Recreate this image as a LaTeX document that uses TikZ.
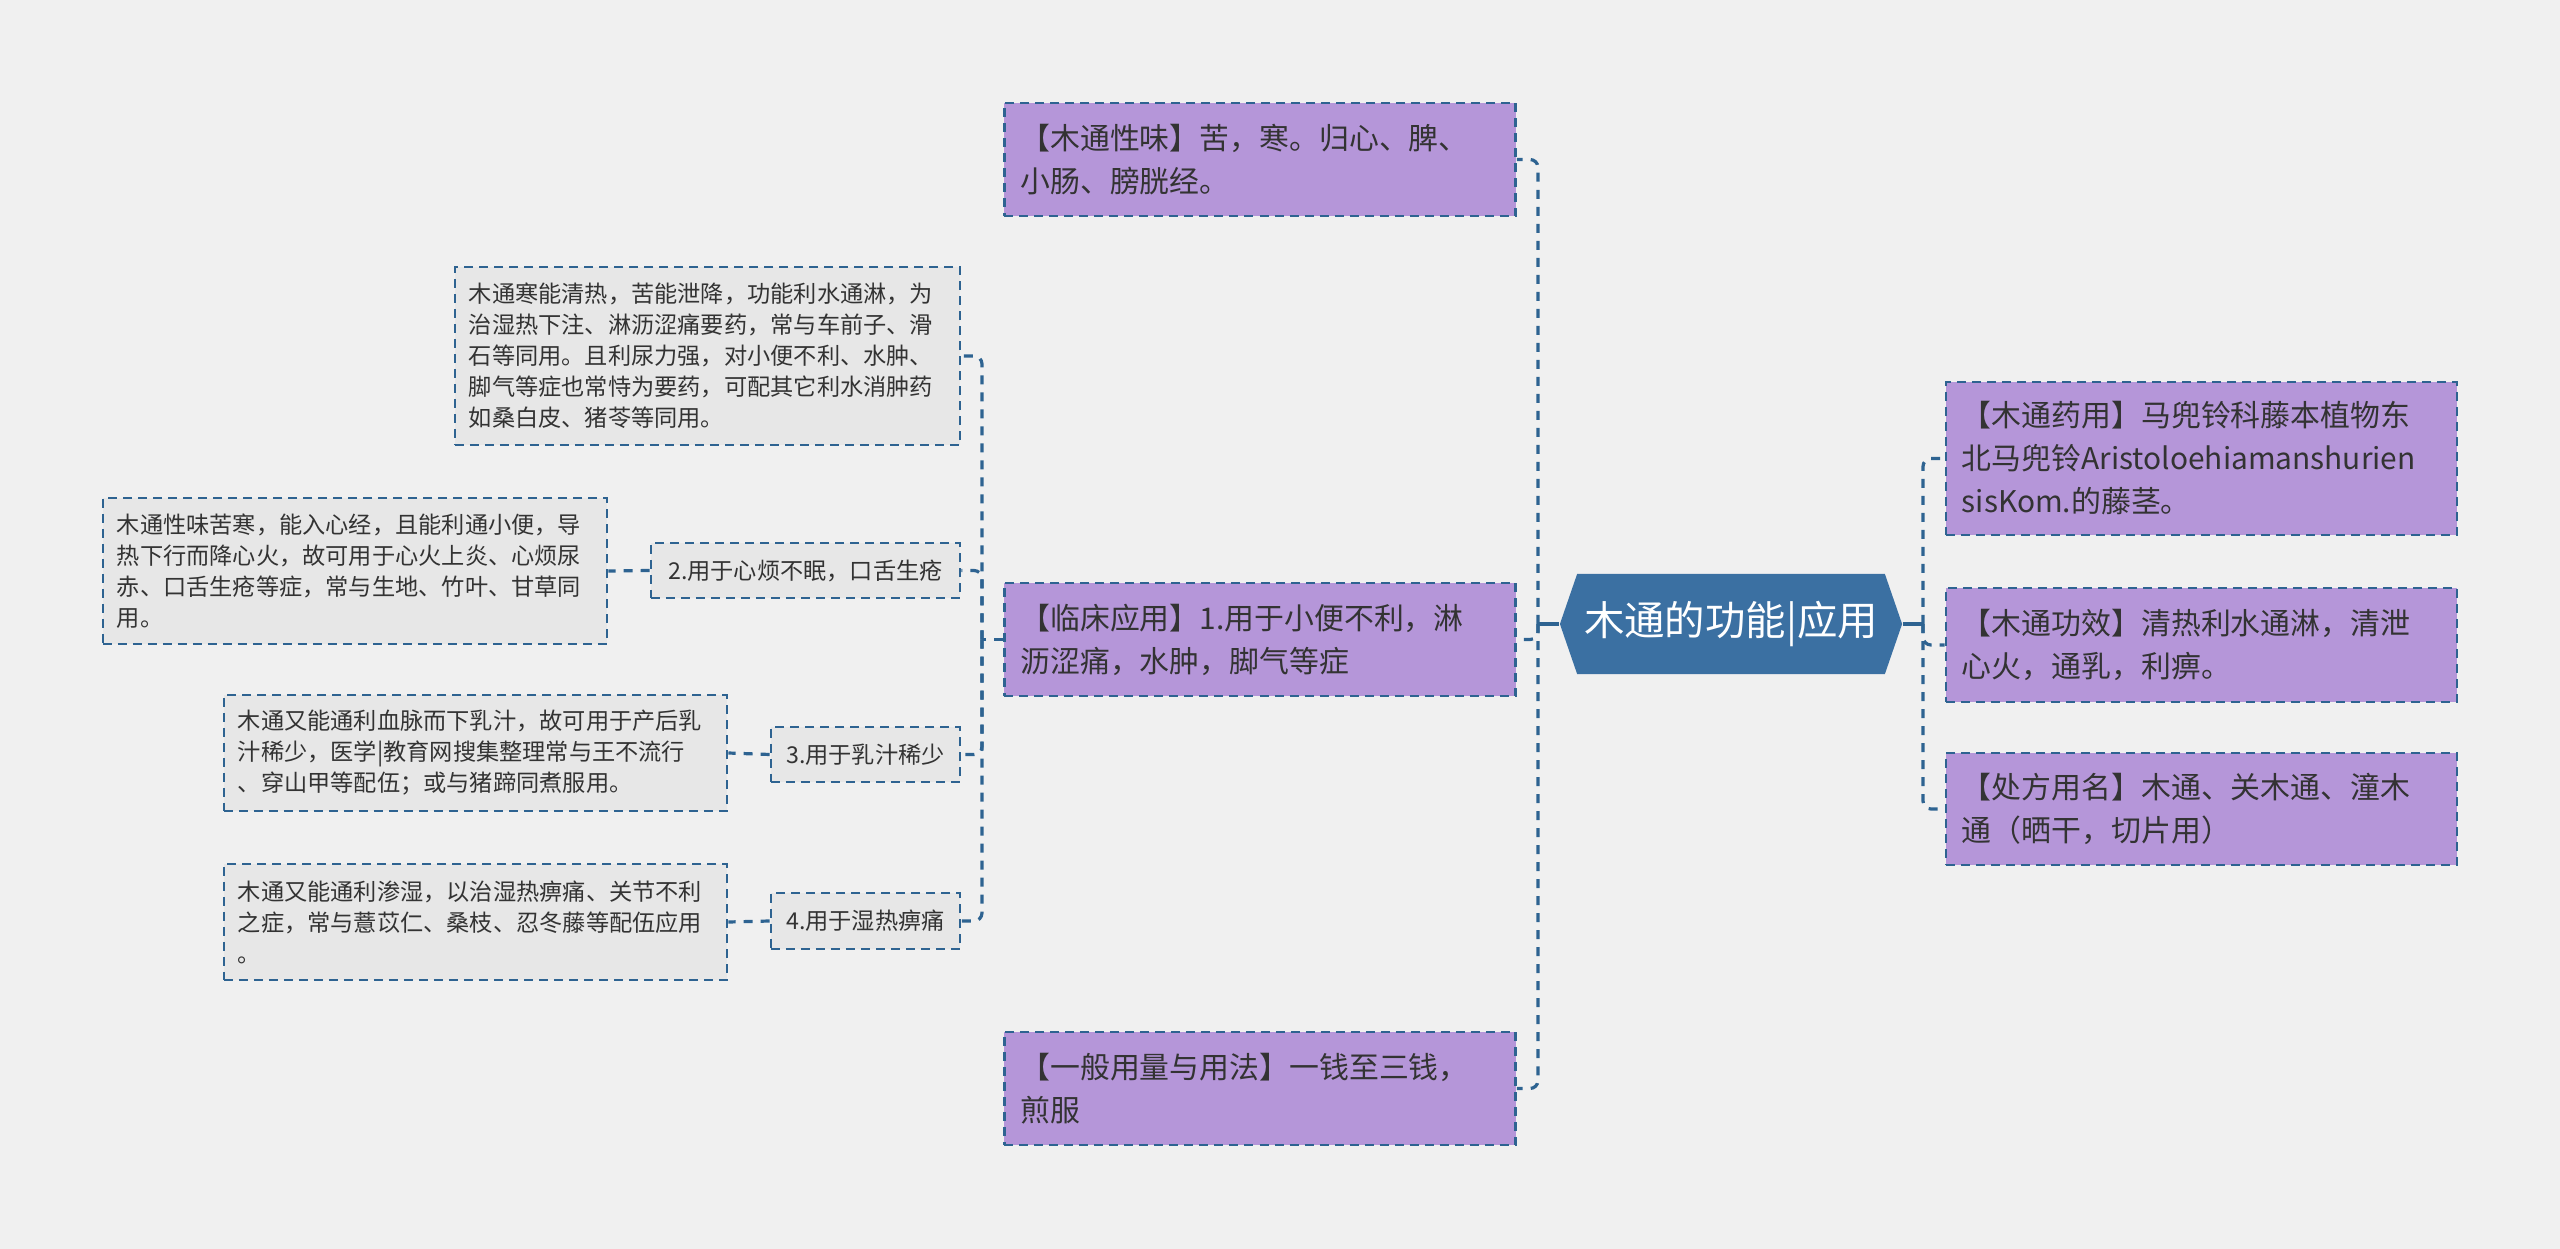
\documentclass[tikz,border=0pt]{standalone}
\usepackage{fontspec}
\setmainfont{Noto Sans CJK SC}
\usetikzlibrary{calc,positioning,shapes.symbols}
\hyphenpenalty=10000
\exhyphenpenalty=10000
\definecolor{Canvas}{HTML}{F0F0F0}
\definecolor{Ink}{HTML}{333333}
\definecolor{Steel}{HTML}{3B70A2}
\definecolor{Wire}{HTML}{2E6391}
\definecolor{Lilac}{HTML}{B596D9}
\definecolor{Cloud}{HTML}{E7E7E7}
\tikzset{
  central/.style={
    shape=signal, signal to=west and east, signal pointer angle=142,
    fill=Steel, text=white, minimum width=3.42cm, minimum height=1cm,
    inner sep=0pt, font=\fontsize{11.5}{14}\selectfont
  },
  branch/.style={
    draw=Wire, line width=0.026cm, dash pattern=on 0.09cm off 0.06cm,
    fill=Lilac, text=Ink, inner xsep=0.16cm, inner ysep=0pt,
    minimum width=5.11cm, text width=4.79cm, align=left,
    font=\fontsize{8.5}{12.2}\selectfont
  },
  leaf/.style={
    draw=Wire, line width=0.026cm, dash pattern=on 0.09cm off 0.06cm,
    fill=Cloud, text=Ink, inner xsep=0.14cm, inner ysep=0pt,
    minimum width=5.04cm, text width=4.76cm, align=left,
    font=\fontsize{6.6}{8.8}\selectfont
  },
  tag/.style={
    draw=Wire, line width=0.026cm, dash pattern=on 0.09cm off 0.06cm,
    fill=Cloud, text=Ink, inner xsep=0.1cm, inner ysep=0pt,
    minimum height=0.55cm, font=\fontsize{6.6}{8.8}\selectfont
  },
  link/.style={draw=Wire, line width=0.032cm, dash pattern=on 0.09cm off 0.08cm, rounded corners=0.08cm},
  stem/.style={draw=Wire, line width=0.035cm}
}

\begin{document}
\begin{tikzpicture}[x=0.01cm, y=-0.01cm]
  \fill[Canvas] (0,0) rectangle (2560,1249);
  \useasboundingbox (0,0) rectangle (2560,1249);

  % centre
  \node[central] (root) at (1731,624) {木通的功能|应用};
  \coordinate (lbus) at (1538,624);
  \coordinate (rbus) at (1923,624);

  % right side
  \node[branch, minimum height=1.53cm] (r1) at (2201.5,458.5)
    {【木通药用】马兜铃科藤本植物东\\北马兜铃Aristoloehiamanshurien\\sisKom.的藤茎。};
  \node[branch, minimum height=1.14cm] (r2) at (2201.5,645)
    {【木通功效】清热利水通淋，清泄\\心火，通乳，利痹。};
  \node[branch, minimum height=1.12cm] (r3) at (2201.5,809)
    {【处方用名】木通、关木通、潼木\\通（晒干，切片用）};

  % left side
  \node[branch, minimum height=1.13cm] (m1) at (1260,159.5)
    {【木通性味】苦，寒。归心、脾、\\小肠、膀胱经。};
  \node[branch, minimum height=1.13cm] (m2) at (1260,639.5)
    {【临床应用】1.用于小便不利，淋\\沥涩痛，水肿，脚气等症};
  \node[branch, minimum height=1.13cm] (m3) at (1260,1088.5)
    {【一般用量与用法】一钱至三钱，\\煎服};
  \coordinate (mbus) at (982,639.5);

  \node[leaf, minimum width=5.05cm, text width=4.77cm, minimum height=1.78cm] (l1) at (707.5,356)
    {木通寒能清热，苦能泄降，功能利水通淋，为\\治湿热下注、淋沥涩痛要药，常与车前子、滑\\石等同用。且利尿力强，对小便不利、水肿、\\脚气等症也常恃为要药，可配其它利水消肿药\\如桑白皮、猪苓等同用。};

  \node[tag, minimum width=3.09cm] (q2) at (805.5,570.5) {2.用于心烦不眠，口舌生疮};
  \node[leaf, minimum height=1.46cm] (d2) at (355,571)
    {木通性味苦寒，能入心经，且能利通小便，导\\热下行而降心火，故可用于心火上炎、心烦尿\\赤、口舌生疮等症，常与生地、竹叶、甘草同\\用。};

  \node[tag, minimum width=1.89cm] (q3) at (865.5,754.5) {3.用于乳汁稀少};
  \node[leaf, minimum width=5.03cm, text width=4.75cm, minimum height=1.16cm] (d3) at (475.5,753)
    {木通又能通利血脉而下乳汁，故可用于产后乳\\汁稀少，医学|教育网搜集整理常与王不流行\\、穿山甲等配伍；或与猪蹄同煮服用。};

  \node[tag, minimum width=1.89cm, minimum height=0.56cm] (q4) at (865.5,921) {4.用于湿热痹痛};
  \node[leaf, minimum width=5.03cm, text width=4.75cm, minimum height=1.16cm] (d4) at (475.5,922)
    {木通又能通利渗湿，以治湿热痹痛、关节不利\\之症，常与薏苡仁、桑枝、忍冬藤等配伍应用\\。};

  % connectors
  \draw[stem] (root.west) -- (lbus);
  \draw[stem] (root.east) -- (rbus);
  \draw[link] (lbus) |- (m1.east);
  \draw[link] (lbus) |- (m2.east);
  \draw[link] (lbus) |- (m3.east);
  \draw[link] (rbus) |- (r1.west);
  \draw[link] (rbus) |- (r2.west);
  \draw[link] (rbus) |- (r3.west);
  \draw[link] (m2.west) -- (mbus);
  \draw[link] (mbus) |- (l1.east);
  \draw[link] (mbus) |- (q2.east);
  \draw[link] (mbus) |- (q3.east);
  \draw[link] (mbus) |- (q4.east);
  \draw[link] (q2.west) -- (d2.east);
  \draw[link] (q3.west) -- (d3.east);
  \draw[link] (q4.west) -- (d4.east);
\end{tikzpicture}
\end{document}
